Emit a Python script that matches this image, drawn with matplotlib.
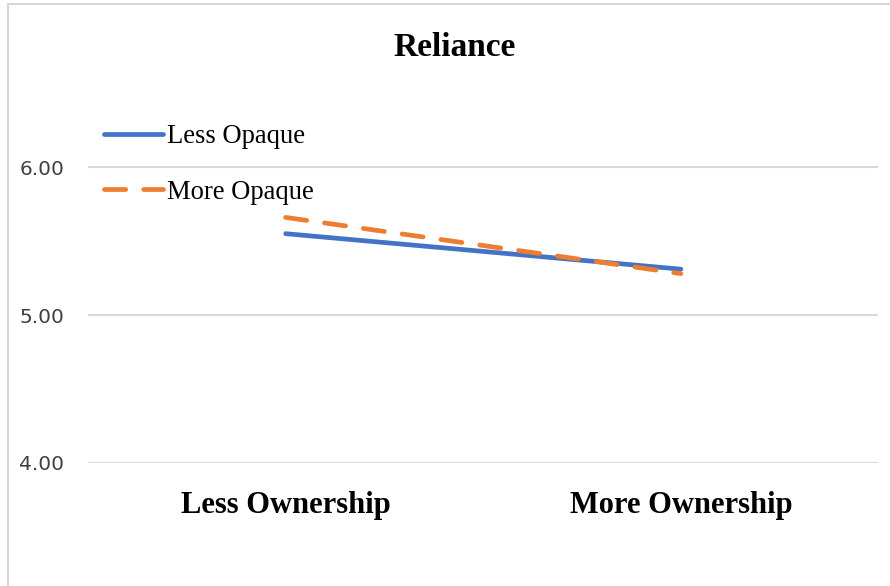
import matplotlib
matplotlib.use('Agg')
import matplotlib.pyplot as plt
from matplotlib.patches import Rectangle

categories = ['Less Ownership', 'More Ownership']
less_opaque = [5.55, 5.31]
more_opaque = [5.66, 5.28]
yticks = [4.0, 5.0, 6.0]

fig = plt.figure(figsize=(8.9, 5.86), dpi=100)
ax = fig.add_axes([0.099, 0.21, 0.888, 0.631])

x = range(len(categories))
ax.plot(x, less_opaque, color='#4472C4', lw=3.4, label='Less Opaque', solid_capstyle='round')
ax.plot(x, more_opaque, color='#ED7D31', lw=3.4, label='More Opaque', dashes=(4.5, 3.8), dash_capstyle='round')

ax.set_xlim(-0.5, 1.5)
ax.set_ylim(4.0, 6.5)
ax.set_yticks(yticks)
ax.set_yticklabels(['%.2f' % v for v in yticks])
ax.set_xticks(list(x))
ax.set_xticklabels(categories, family='Liberation Serif', fontweight='bold', fontsize=22)
ax.tick_params(axis='x', length=0, pad=20)
ax.tick_params(axis='y', length=0, pad=17, labelsize=14.5, labelcolor='#404040')
ax.grid(axis='y', color='#D9D9D9', lw=1.5)
ax.set_axisbelow(True)
for s in ax.spines.values():
    s.set_visible(False)

fig.text(0.511, 1 - 47 / 586, 'Reliance', ha='center', va='center',
         family='Liberation Serif', fontweight='bold', fontsize=24)

leg = fig.legend(loc='upper left', bbox_to_anchor=(104 / 890, 1 - 124 / 586),
                 frameon=False, borderpad=0, borderaxespad=0,
                 prop={'family': 'Liberation Serif', 'size': 19.2},
                 handlelength=2.2, handletextpad=0.15, labelspacing=1.15)

# thin frame around the chart
fig.patches.append(Rectangle((8 / 890, -0.01), 1.1, 1 - 4 / 586 + 0.01, transform=fig.transFigure,
                             fill=False, edgecolor='#D0D0D0', lw=1.2))

fig.savefig('out.png', dpi=100)
